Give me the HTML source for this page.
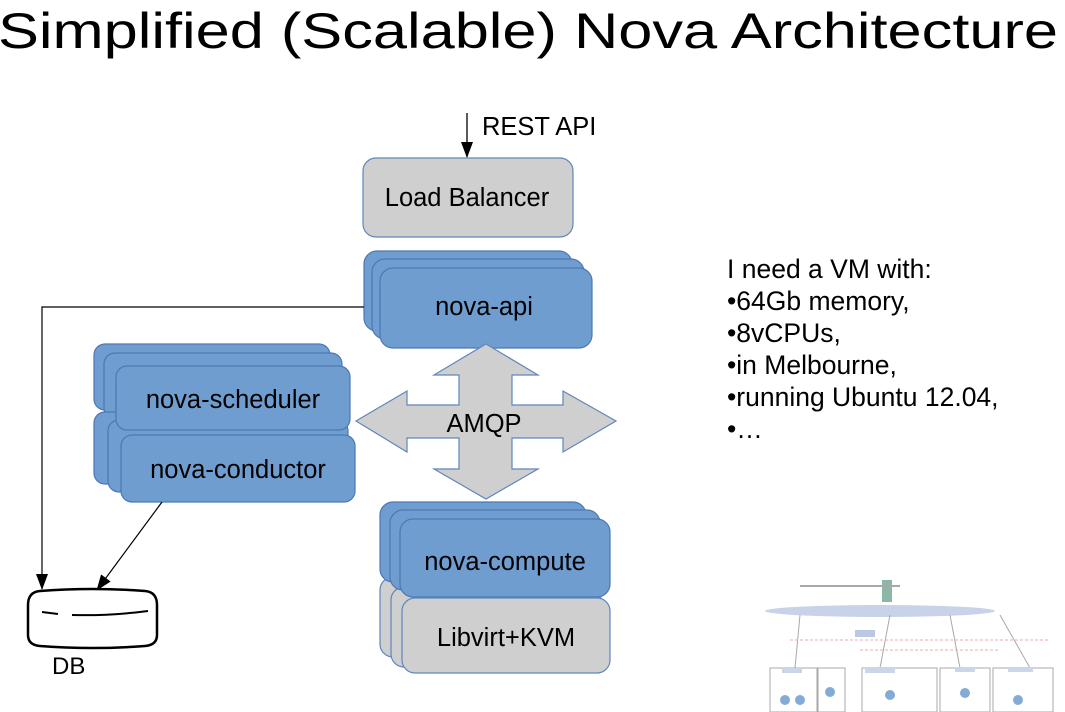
<!DOCTYPE html>
<html><head><meta charset="utf-8"><style>
html,body{margin:0;padding:0;background:#fff;width:1065px;height:712px;overflow:hidden}
svg{display:block}
text{font-family:"Liberation Sans",sans-serif;fill:#000}
.b{fill:#6f9dd0;stroke:#4d78b4;stroke-width:1.2}
.g{fill:#cfcfcf;stroke:#5f86bd;stroke-width:1.2}
</style></head><body>
<svg width="1065" height="712" viewBox="0 0 1065 712">
<defs><marker id="ah" markerWidth="16" markerHeight="12" refX="15" refY="6" orient="auto" markerUnits="userSpaceOnUse"><path d="M0,0 L16,6 L0,12 z" fill="#000"/></marker></defs>
<text x="-2" y="48" font-size="50" textLength="1060" lengthAdjust="spacingAndGlyphs" style="font-weight:300">Simplified (Scalable) Nova Architecture</text>

<line x1="467" y1="113" x2="467" y2="157" stroke="#000" stroke-width="1.3" marker-end="url(#ah)"/>
<text x="482" y="135" font-size="25.5">REST API</text>
<rect class="g" x="363" y="158" width="210" height="79" rx="13"/>
<text x="467" y="206" font-size="25.5" text-anchor="middle">Load Balancer</text>

<rect class="b" x="364" y="251" width="208" height="80" rx="13"/>
<rect class="b" x="372" y="259" width="212" height="80" rx="13"/>
<rect class="b" x="380" y="268" width="212" height="80" rx="13"/>
<text x="484" y="315" font-size="25.5" text-anchor="middle">nova-api</text>

<polyline points="364,307 42,307 42,589" fill="none" stroke="#000" stroke-width="1.2" marker-end="url(#ah)"/>

<rect class="b" x="94" y="344" width="236" height="66" rx="11"/>
<rect class="b" x="104" y="353" width="238" height="66" rx="11"/>
<rect class="b" x="94" y="412" width="250" height="72" rx="11"/>
<rect class="b" x="108" y="420" width="240" height="72" rx="11"/>
<rect class="b" x="116" y="366" width="234" height="64" rx="11"/>
<text x="233" y="408" font-size="25.5" text-anchor="middle">nova-scheduler</text>
<rect class="b" x="121" y="435" width="234" height="67" rx="11"/>
<text x="238" y="478" font-size="25.5" text-anchor="middle">nova-conductor</text>

<line x1="162" y1="502" x2="97" y2="590" stroke="#000" stroke-width="1.2" marker-end="url(#ah)"/>

<polygon points="486,344 538,375 512,375 512,405 563,405 563,391 616,421 563,452 563,438 512,438 512,469 538,469 486,499 434,469 459,469 459,438 407,438 407,452 356,421 407,391 407,405 459,405 459,375 434,375" fill="#cfcfcf" stroke="#5f86bd" stroke-width="1.2"/>
<text x="484" y="432" font-size="25.5" text-anchor="middle">AMQP</text>

<rect class="g" x="380" y="577" width="206" height="80" rx="13"/>
<rect class="g" x="391" y="587" width="210" height="80" rx="13"/>
<rect class="b" x="380" y="502" width="206" height="80" rx="13"/>
<rect class="b" x="390" y="510" width="210" height="80" rx="13"/>
<rect class="b" x="400" y="519" width="210" height="78" rx="13"/>
<text x="505" y="570" font-size="25.5" text-anchor="middle">nova-compute</text>
<rect class="g" x="402" y="598" width="208" height="75" rx="13"/>
<text x="506" y="646" font-size="25.5" text-anchor="middle">Libvirt+KVM</text>

<path d="M28,605 Q28,592 40,591 Q92,587 145,591 Q157,592 157,605 L157,635 Q157,645 145,646 Q92,650 40,646 Q28,645 28,635 Z" fill="#fff" stroke="#000" stroke-width="2.5"/>
<path d="M42,612 L58,614 M72,615 Q110,616 148,611" stroke="#000" stroke-width="2" fill="none"/>
<text x="52" y="674" font-size="24">DB</text>

<g font-size="26.5">
<text x="727" y="278">I need a VM with:</text>
<text x="727" y="310">•64Gb memory,</text>
<text x="727" y="342">•8vCPUs,</text>
<text x="727" y="374">•in Melbourne,</text>
<text x="727" y="406">•running Ubuntu 12.04,</text>
<text x="727" y="438">•…</text>
</g>

<g opacity="0.85">
<ellipse cx="880" cy="611" rx="115" ry="6" fill="#bfcce6"/>
<rect x="882" y="580" width="10" height="22" fill="#7a9"/>
<rect x="800" y="585" width="100" height="2" fill="#999"/>
<rect x="855" y="630" width="20" height="7" fill="#aebfe0"/>
<g fill="none" stroke="#999" stroke-width="1">
<rect x="770" y="668" width="48" height="44"/><rect x="817" y="668" width="28" height="44"/>
<rect x="862" y="668" width="75" height="44"/><rect x="940" y="668" width="50" height="44"/><rect x="993" y="668" width="60" height="44"/>
<path d="M800,615 L795,668 M890,615 L880,668 M950,615 L960,668 M1000,615 L1030,668"/>
</g>
<g fill="#6f9dd0"><circle cx="785" cy="700" r="5"/><circle cx="800" cy="700" r="5"/><circle cx="830" cy="692" r="5"/><circle cx="890" cy="695" r="5"/><circle cx="965" cy="693" r="5"/><circle cx="1018" cy="700" r="5"/></g>
<g fill="#c3cfe8"><rect x="782" y="668" width="20" height="5"/><rect x="865" y="667" width="30" height="6"/><rect x="955" y="667" width="20" height="5"/><rect x="1008" y="667" width="25" height="5"/></g>
<path d="M790,640 L1050,640 M860,650 L1000,650" stroke="#e6a0a0" stroke-dasharray="3 2" fill="none"/>
</g>
</svg>
</body></html>
